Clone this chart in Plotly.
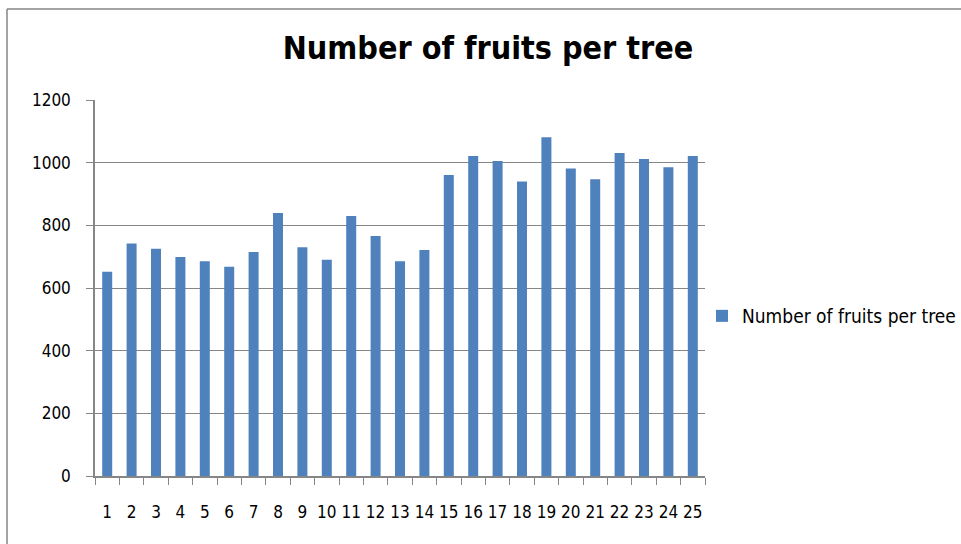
import plotly.graph_objects as go

trees = [str(i) for i in range(1, 26)]
fruits = [652, 742, 725, 699, 685, 668, 715, 839, 730, 690, 830, 766, 685,
          721, 961, 1021, 1005, 940, 1081, 981, 947, 1031, 1012, 985, 1021]
series_name = "Number of fruits per tree"
title_text = "Number of fruits per tree"
y_ticks = [0, 200, 400, 600, 800, 1000, 1200]

font_fam = "DejaVu Sans Condensed, Liberation Sans Narrow, sans-serif"

fig = go.Figure()
fig.add_trace(go.Bar(x=trees, y=fruits, name=series_name,
                     marker=dict(color="#4F81BD", line=dict(width=0)),
                     showlegend=True))

L, R, T, B = 95, 256, 100, 68
W, H = 961, 544
pw, ph = W - L - R, H - T - B

fig.update_layout(
    width=W, height=H,
    margin=dict(l=L, r=R, t=T, b=B, autoexpand=False),
    paper_bgcolor="white", plot_bgcolor="white",
    bargap=0.59,
    title=dict(text="<b>" + title_text + "</b>", x=488 / W, xanchor="center",
               y=1 - 48 / H, yanchor="middle",
               font=dict(family=font_fam, size=32, color="black")),
    font=dict(family=font_fam, size=17, color="black"),
    legend=dict(x=(702 - L) / pw, y=(476 - 316) / ph, xanchor="left", yanchor="middle",
                font=dict(family=font_fam, size=19, color="black"),
                bgcolor="rgba(0,0,0,0)", itemwidth=30),
    showlegend=True,
    xaxis=dict(type="category", showgrid=False, showline=True, linecolor="#868686",
               linewidth=1.5, ticks="outside", tickson="boundaries", ticklen=7,
               tickcolor="#868686", tickangle=0, tickfont=dict(size=17),
               ticklabelstandoff=20, automargin=False),
    yaxis=dict(range=[0, 1200], tickvals=y_ticks, showgrid=True, gridcolor="#868686",
               gridwidth=1, showline=True, linecolor="#868686", linewidth=1.5,
               ticks="outside", ticklen=7, tickcolor="#868686", zeroline=False,
               tickfont=dict(size=17), ticklabelstandoff=12, automargin=False),
    shapes=[
        dict(type="line", xref="paper", yref="paper",
             x0=(7 - L) / pw, x1=(975 - L) / pw,
             y0=(476 - 9) / ph, y1=(476 - 9) / ph,
             line=dict(color="#868686", width=1.5)),
        dict(type="line", xref="paper", yref="paper",
             x0=(7 - L) / pw, x1=(7 - L) / pw,
             y0=(476 - 9) / ph, y1=(476 - 560) / ph,
             line=dict(color="#868686", width=1.5)),
    ],
)

fig.write_html("out.html", config={"displayModeBar": False},
               post_script="document.body.style.margin='0';document.body.style.overflow='hidden';")
